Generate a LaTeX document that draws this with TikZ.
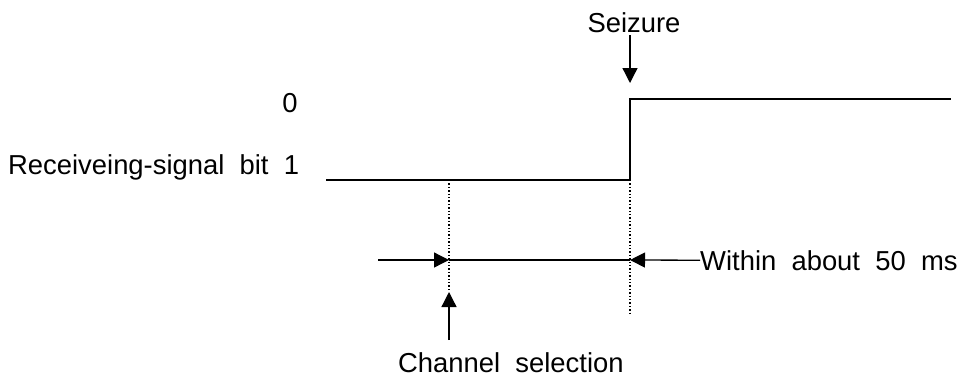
\documentclass[tikz,border=0pt]{standalone}
\usepackage{fontspec}
\setmainfont{Liberation Sans}[WordSpace=2]
\usetikzlibrary{arrows.meta}
\begin{document}
\begin{tikzpicture}[x=1pt,y=-1pt,font=\fontsize{27.4}{31}\selectfont]
  \def\lo{180}
  \def\hi{99}

\tikzstyle{signal}=[line width=2.4pt]
\tikzstyle{marker}=[line width=1.4pt,dotted]
\tikzstyle{pointer}=[line width=1.3pt,-{Triangle[length=15pt,width=15pt]}]
\tikzstyle{label}=[inner sep=0pt]
\useasboundingbox (0,0) rectangle (960,376);
% levels
\node[label,anchor=base] (zero) at (290,112) {0};
\node[label,anchor=base west] (bitone) at (8,174) {Receiveing-signal bit 1};
\coordinate (S0) at (326,\lo);
\coordinate (S1) at (449,\lo);
\coordinate (S2) at (630,\lo);
\coordinate (S3) at (630,\hi);
\coordinate (S4) at (951,\hi);
\draw[signal] (S0) -- (S1) -- (S2) -- (S3) -- (S4);
% seizure
\node[label,anchor=base] (seize) at (634,32) {Seizure};
\coordinate (seizetip) at (630,83);
\draw[pointer,shorten <=3pt] (seize.south -| seizetip) -- (seizetip);
% window
\coordinate (D1) at (449,292);
\coordinate (D2) at (630,313);
\draw[marker] (S1) -- (D1);
\draw[marker] (S2) -- (D2);
\coordinate (W0) at (378,260);
\coordinate (W1) at (449,260);
\coordinate (W2) at (630,260);
\node[label,anchor=base west] (within) at (700,270) {Within about 50 ms};
\draw[line width=2pt] (W1) -- (W2);
\draw[pointer] (W0) -- (W1);
\draw[pointer] (within.west) -- (W2);
% channel selection
\node[label,anchor=base west] (chan) at (398,372) {Channel selection};
\coordinate (C0) at (449,340);
\draw[pointer] (C0) -- (D1);
\end{tikzpicture}
\end{document}
